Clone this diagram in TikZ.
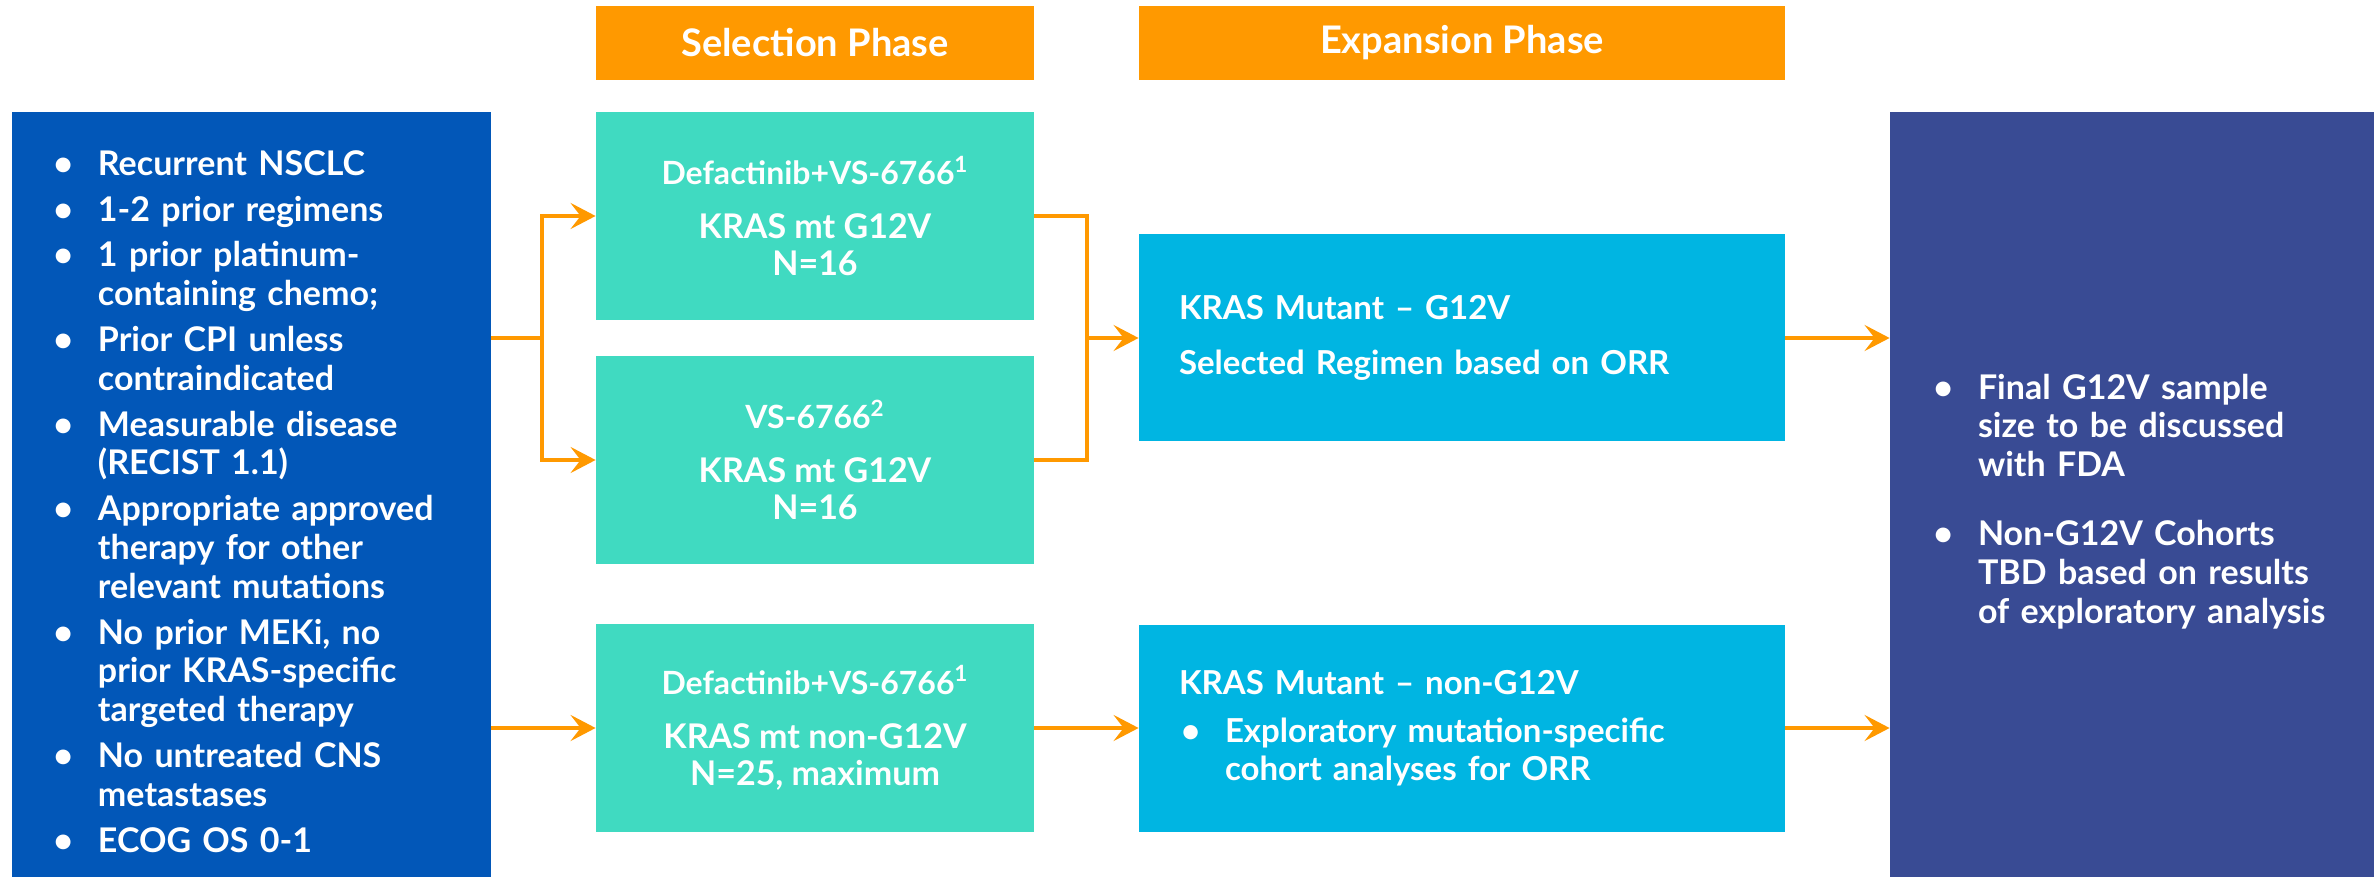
\documentclass[tikz,border=0pt]{standalone}
\usepackage{fontspec}
\setmainfont{Lato}
\usetikzlibrary{arrows.meta}
\definecolor{eligblue}{RGB}{2,87,184}
\definecolor{phaseorange}{RGB}{255,153,0}
\definecolor{selteal}{RGB}{64,218,193}
\definecolor{expcyan}{RGB}{0,181,226}
\definecolor{finalblue}{RGB}{57,75,148}
\newenvironment{blist}[3]{%
  \begin{list}{\textbullet}{\setlength\leftmargin{#1}\setlength\labelwidth{#1}%
    \setlength\labelsep{0pt}\setlength\itemsep{#3}\setlength\parsep{0pt}%
    \setlength\topsep{0pt}\setlength\partopsep{0pt}%
    \def\makelabel##1{\hspace{#2}##1\hfil}}}{\end{list}}
\tikzset{
  box/.style={rectangle, inner sep=0pt, text=white, font=\bfseries},
  phasebox/.style={box, fill=phaseorange, minimum width=#1, minimum height=37pt,
    font=\bfseries\fontsize{19}{22}\selectfont},
  selbox/.style={box, fill=selteal, minimum width=219pt, minimum height=104pt,
    align=center, font=\bfseries\fontsize{17}{18.5}\selectfont},
  expbox/.style={box, fill=expcyan, minimum width=323pt, minimum height=103.5pt,
    inner xsep=20pt, text width=283pt, align=left,
    font=\bfseries\fontsize{16.5}{19}\selectfont},
  sidebox/.style={box, minimum width=#1, minimum height=382.5pt, inner xsep=15pt,
    font=\bfseries\fontsize{17}{19.4}\selectfont},
  conn/.style={draw=phaseorange, line width=2pt},
  arr/.style={conn, -{Stealth[length=12.5pt,width=13pt,inset=5pt]}},
}
\begin{document}
\begin{tikzpicture}[x=0.5pt,y=-0.5pt]
\useasboundingbox (0,0) rectangle (2374,877);
% eligibility
\node[sidebox=239.5pt, fill=eligblue, text width=209.5pt] (elig) at (251.5,494.5) {\raggedright
\begin{blist}{28pt}{5.7pt}{3.5pt}
\item Recurrent NSCLC
\item 1-2 prior regimens
\item 1 prior platinum-\\containing chemo;
\item Prior CPI unless\\contraindicated
\item Measurable disease\\(RECIST 1.1)
\item Appropriate approved\\therapy for other\\relevant mutations
\item No prior MEKi, no\\prior KRAS-specific\\targeted therapy
\item No untreated CNS\\metastases
\item ECOG OS 0-1
\end{blist}};
% headers
\node[phasebox=219pt] (selh) at (815,43) {Selection Phase};
\node[phasebox=323pt] (exph) at (1462,43) {Expansion Phase};
% selection boxes
\node[selbox] (sel1) at (815,216) {{\fontsize{16}{18.5}\selectfont Defactinib+VS-6766\textsuperscript{1}}\\[8.5pt]KRAS mt G12V\\N=16};
\node[selbox] (sel2) at (815,460) {{\fontsize{16}{18.5}\selectfont VS-6766\textsuperscript{2}}\\[8.5pt]KRAS mt G12V\\N=16};
\node[selbox] (sel3) at (815,728) {{\fontsize{16}{18.5}\selectfont Defactinib+VS-6766\textsuperscript{1}}\\[8.5pt]KRAS mt non-G12V\\N=25, maximum};
% expansion boxes
\node[expbox] (exp1) at (1462,338) {KRAS Mutant – G12V\\[8.5pt]Selected Regimen based on ORR};
\node[expbox] (exp2) at (1462,728) {\raggedright KRAS Mutant – non-G12V\par\vspace{5pt}
\begin{blist}{23pt}{1pt}{0pt}
\item Exploratory mutation-specific\\cohort analyses for ORR
\end{blist}};
% final
\node[sidebox=242pt, fill=finalblue, text width=212pt] (final) at (2132,494.5) {\raggedright
\begin{blist}{29pt}{6.7pt}{15pt}
\item Final G12V sample\\size to be discussed\\with FDA
\item Non-G12V Cohorts\\TBD based on results\\of exploratory analysis
\end{blist}};
% connectors
\coordinate (jL) at (542,338);
\coordinate (jR) at (1087,338);
\draw[conn] (elig.east |- jL) -- (jL);
\draw[arr] (jL) |- (sel1.west);
\draw[arr] (jL) |- (sel2.west);
\draw[arr] (elig.east |- sel3.west) -- (sel3.west);
\draw[conn] (sel1.east) -| (jR);
\draw[conn] (sel2.east) -| (jR);
\draw[arr] (jR) -- (exp1.west);
\draw[arr] (sel3.east) -- (exp2.west);
\draw[arr] (exp1.east) -- (final.west |- exp1.east);
\draw[arr] (exp2.east) -- (final.west |- exp2.east);
\end{tikzpicture}
\end{document}
